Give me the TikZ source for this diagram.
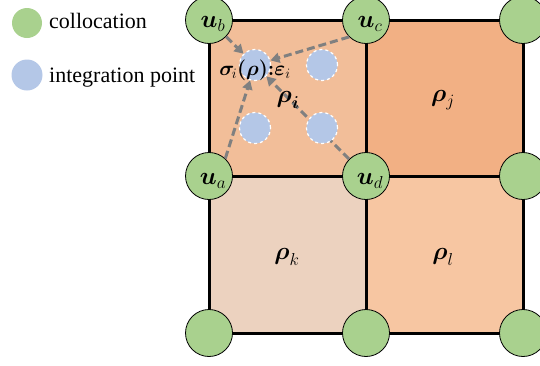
\documentclass[tikz,border=0pt]{standalone}
\usepackage{amsmath}
\usepackage{fontspec}
\setmainfont{Liberation Serif}
\usetikzlibrary{arrows.meta}
\definecolor{cellA}{HTML}{F2BE99}
\definecolor{cellB}{HTML}{F2B084}
\definecolor{cellC}{HTML}{ECD2BF}
\definecolor{cellD}{HTML}{F7C6A2}
\definecolor{gfill}{HTML}{A9D18E}
\definecolor{bfill}{HTML}{B4C7E7}
\definecolor{arrgray}{HTML}{808080}
\newcommand{\bsym}[2]{$\boldsymbol{#1}_{#2}$}
\tikzset{
  coll/.style={circle,draw=black,line width=0.8pt,fill=gfill,minimum size=47pt,inner sep=0pt},
  ipt/.style={circle,draw=white,dashed,line width=1.2pt,fill=bfill,minimum size=31pt,inner sep=0pt},
  legg/.style={circle,fill=gfill,minimum size=30pt,inner sep=0pt},
  legb/.style={circle,fill=bfill,minimum size=31pt,inner sep=0pt},
  arr/.style={draw=arrgray,line width=3pt,dash pattern=on 8pt off 4pt,-{Triangle[length=9pt,width=10pt]}},
  lab/.style={font=\fontsize{23}{23}\selectfont,inner sep=0pt},
  legt/.style={font=\fontsize{22}{22}\selectfont,anchor=base west,inner sep=0pt}
}
\begin{document}
\begin{tikzpicture}[x=1pt,y=-1pt]
\useasboundingbox (0,0) rectangle (540,365);
% cells
\fill[cellA] (209,20) rectangle (366,176);
\fill[cellB] (366,20) rectangle (523,176);
\fill[cellC] (209,176) rectangle (366,333);
\fill[cellD] (366,176) rectangle (523,333);
\draw[line width=3pt] (209,20) rectangle (523,333);
\draw[line width=3pt] (366,20) -- (366,333);
\draw[line width=3pt] (209,176) -- (523,176);
% collocation points
\node[coll] (ub) at (209,20) {};
\node[coll] (uc) at (366,20) {};
\node[coll] (ue) at (523,20) {};
\node[coll] (ua) at (209,176) {};
\node[coll] (ud) at (366,176) {};
\node[coll] (uf) at (523,176) {};
\node[coll] (ug) at (209,333) {};
\node[coll] (uh) at (366,333) {};
\node[coll] (ui) at (523,333) {};
% integration points
\node[ipt] (ip1) at (255,65) {};
\node[ipt] (ip2) at (322,65) {};
\node[ipt] (ip3) at (255,128) {};
% arrows
\draw[arr] (ub) -- (ip1);
\draw[arr] (uc.225) -- (ip1);
\draw[arr] (ua.47) -- (ip1);
\draw[arr] (ud) -- (ip1);
\node[ipt] (ip4) at (322,128) {};
% labels
\node[lab] (lb) at (213,24) {\bsym{u}{b}};
\node[lab] (lc) at (370,24) {\bsym{u}{c}};
\node[lab] (la) at (213,181) {\bsym{u}{a}};
\node[lab] (ld) at (370,181) {\bsym{u}{d}};
\node[lab,font=\fontsize{21}{21}\selectfont] (ls) at (255,70) {$\boldsymbol{\sigma}_{\!i}\boldsymbol{(\rho)}\mathpunct{\boldsymbol{:}}\!\boldsymbol{\varepsilon}_i$};
\node[lab] (lri) at (288,100) {$\boldsymbol{\rho}_{\boldsymbol{i}}$};
\node[lab] (lrj) at (443,100) {\bsym{\rho}{j}};
\node[lab] (lrk) at (287,257) {\bsym{\rho}{k}};
\node[lab] (lrl) at (443,257) {\bsym{\rho}{l}};
% legend
\node[legg] (lg1) at (27,23) {};
\node[legt] (lt1) at (49,28) {collocation};
\node[legb] (lg2) at (27,75) {};
\node[legt] (lt2) at (49,82) {integration point};
\end{tikzpicture}
\end{document}
